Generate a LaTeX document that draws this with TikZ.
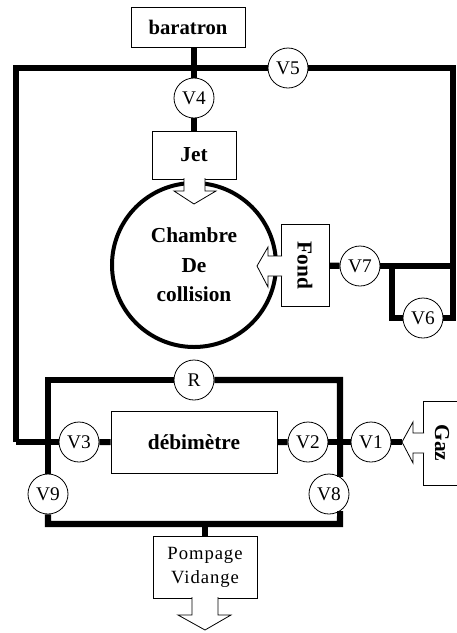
\documentclass[tikz,border=0pt]{standalone}
\usepackage{fontspec}
\setmainfont{Liberation Serif}
\newfontfamily\spacedfont[LetterSpace=5]{Liberation Serif}
\usetikzlibrary{positioning}
\tikzset{every node/.style={font=\fontsize{14.5}{16}\selectfont},
 valve/.style={circle,draw,fill=white,line width=0.6pt,minimum size=30pt,inner sep=0pt},
 device/.style={draw,fill=white,line width=0.7pt,inner sep=0pt,align=center,
  font=\fontsize{16}{21}\selectfont\bfseries},
 pipe/.style={line width=4.6pt,line join=miter},
 outlet/.style={draw,fill=white,line width=0.6pt}}

\begin{document}
\begin{tikzpicture}[x=0.75pt,y=-0.75pt]
\useasboundingbox (0,0) rectangle (457,633);
% Free corners of the pipe runs.
\coordinate (topleft) at (16,68);
\coordinate (topright) at (453,68);
\coordinate (lowright) at (453,318);
\coordinate (bendleft) at (16,442);
\coordinate (branch) at (392,266);
\coordinate (branchlow) at (392,318);
\coordinate (loopnw) at (48,380);
\coordinate (loopne) at (340,380);
\coordinate (loopsw) at (48,524);
\coordinate (loopse) at (340,524);
\coordinate (looptap) at (205,524);
\coordinate (gaztip) at (402,442);
% Chamber first, so that the two outlets can open into it.
\node[circle,draw,fill=white,line width=3pt,minimum size=123pt,inner sep=0pt,align=center,
 font=\fontsize{16}{22}\selectfont\bfseries] (chambre) at (194,265) {Chambre\\De\\collision};
\foreach \n/\x/\y in {V1/371/442,V2/308/442,V3/79/442,V4/194/98,V5/288/68,V6/423/318,
 V7/360/266,V8/329/494,V9/48/494,R/194/380}
 {\node[valve] (\n) at (\x,\y) {\n};}
\node[device,minimum width=85.5pt,minimum height=30pt,font=\fontsize{15.5}{20}\selectfont\bfseries]
 (baratron) at (188,27) {baratron};
\node[device,minimum width=63pt,minimum height=36pt] (jet) at (194,155) {Jet};
\node[device,minimum width=36pt,minimum height=62pt] (fond) at (305,265.5) {};
\node[font=\fontsize{16}{21}\selectfont\bfseries,rotate=-90] (fondlabel) at (fond) {Fond};
\node[device,minimum width=124.5pt,minimum height=46pt] (debit) at (194,442.5) {débimètre};
\node[device,minimum width=36pt,minimum height=63pt] (gaz) at (447,443) {};
\node[font=\fontsize{16}{21}\selectfont\bfseries,rotate=-90] (gazlabel) at (442,443) {Gaz};
\node[device,minimum width=78pt,minimum height=46pt,font=\fontsize{14}{18}\spacedfont]
 (pompage) at (205,567.5) {Pompage\\Vidange};
% Block arrows stay open towards their box.
\draw[outlet] (184,178)--(184,191)--(174,191)--(194,204)--(216,191)--(205,191)--(205,178);
\draw[outlet] (282,256)--(268,256)--(268,247)--(257,266)--(268,287)--(268,276)--(282,276);
\draw[outlet] (424,433)--(413,433)--(413,422)--(402,442)--(413,463)--(413,453)--(424,453);
\draw[outlet] (192,597)--(192,615)--(178,615)--(205,630)--(231,615)--(218,615)--(218,597);
% Upper line.
\draw[pipe] (bendleft)--(topleft)--(V5);
\draw[pipe] (V5)--(topright)--(lowright)--(V6);
\draw[pipe] (baratron.south -| V4)--(V4);
\draw[pipe] (V4)--(jet);
\draw[pipe] (fond)--(V7);
\draw[pipe] (V7)--(branch -| topright);
\draw[pipe] (branch)--(branchlow)--(V6);
% Lower loop.
\draw[pipe] (bendleft)--(V3);
\draw[pipe] (V3)--(debit);
\draw[pipe] (debit)--(V2);
\draw[pipe] (V2)--(V1);
\draw[pipe] (V1)--(gaztip);
\draw[pipe] (V9)--(loopnw)--(R);
\draw[pipe] (R)--(loopne)--(V8.57);
\draw[pipe] (V8.-57)--(loopse)--(loopsw)--(V9);
\draw[pipe] (looptap)--(pompage);
\end{tikzpicture}
\end{document}
